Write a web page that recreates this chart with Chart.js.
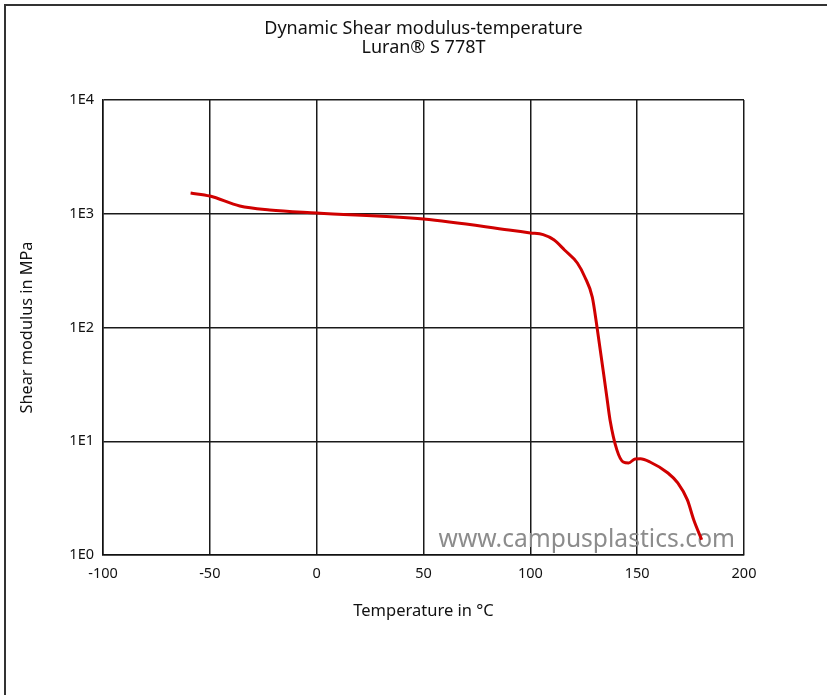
<!DOCTYPE html>
<html>
<head>
<meta charset="utf-8">
<script src="https://cdn.jsdelivr.net/npm/chart.js@4/dist/chart.umd.min.js"></script>
<style>
  html,body{margin:0;padding:0;background:#fff;}
  #wrap{position:relative;width:827px;height:695px;overflow:hidden;}
  #frame{position:absolute;left:4px;top:4px;width:900px;height:800px;border-left:2px solid #333;border-top:2px solid #333;}
  #c{position:absolute;left:0;top:0;}
</style>
</head>
<body>
<div id="wrap">
  <div id="frame"></div>
  <canvas id="c" width="827" height="695"></canvas>
</div>
<script>
// temperature (°C) and shear modulus (MPa)
const temps = [-59, -50, -36, -22, 0, 50, 90, 100, 106, 111, 116, 122, 125.5, 129, 131.2, 135.8, 137.3, 140.5, 143.5, 146, 149, 151.5, 156, 164.4, 169, 173.5, 176.5, 180.2];
const modulus = [1520, 1430, 1170, 1080, 1016, 899, 720, 678, 655, 590, 480, 369, 278, 185, 101, 24.5, 15.4, 8.4, 6.57, 6.44, 6.98, 7.0, 6.57, 5.26, 4.3, 3.05, 2.03, 1.36];

const yTickValues = [1, 10, 100, 1000, 10000];
const yTickLabels = ['1E0', '1E1', '1E2', '1E3', '1E4'];

const titleLines = ['Dynamic Shear modulus-temperature', 'Luran® S 778T'];
const watermark = 'www.campusplastics.com';

const FONT = "'Noto Sans', 'Open Sans', sans-serif";

const watermarkPlugin = {
  id: 'watermark',
  beforeDatasetsDraw(chart){
    const ctx = chart.ctx;
    ctx.save();
    ctx.font = '24.6px ' + FONT;
    ctx.fillStyle = '#8c8c8c';
    ctx.textAlign = 'right';
    ctx.textBaseline = 'alphabetic';
    ctx.fillText(watermark, chart.chartArea.right - 9, chart.chartArea.bottom - 8);
    ctx.restore();
  }
};

new Chart(document.getElementById('c'), {
  type: 'line',
  data: {
    datasets: [{
      data: temps.map((t, i) => ({x: t, y: modulus[i]})),
      borderColor: '#d00000',
      borderWidth: 3,
      pointRadius: 0,
      cubicInterpolationMode: 'monotone',
      fill: false,
      yAxisID: 'y'
    }]
  },
  options: {
    responsive: false,
    animation: false,
    layout: {padding: {left: 20, top: 0, right: 0, bottom: 0}},
    plugins: {
      legend: {display: false},
      tooltip: {enabled: false},
      title: {
        display: true,
        text: titleLines,
        color: '#111',
        font: {family: FONT, size: 18, weight: 'normal', lineHeight: '19px'},
        padding: {top: 19.5, bottom: 42.5}
      }
    },
    scales: {
      x: {
        type: 'linear',
        min: -100, max: 200,
        afterFit(s){ s.height = 140; },
        ticks: {stepSize: 50, color: '#111', padding: 10, font: {family: FONT, size: 14.5}},
        grid: {color: '#1a1a1a', lineWidth: 1.5, drawTicks: false},
        border: {color: '#111', width: 1.5},
        title: {display: true, text: 'Temperature in °C', color: '#111',
          font: {family: FONT, size: 16.5, lineHeight: 1.2}, padding: {top: 0, bottom: 74}}
      },
      y: {
        type: 'logarithmic',
        min: 1, max: 10000,
        afterFit(s){ s.width = 83; },
        afterBuildTicks(s){ s.ticks = yTickValues.map(v => ({value: v})); },
        ticks: {
          color: '#111', padding: 9, font: {family: FONT, size: 14.5},
          callback(v){ const i = yTickValues.indexOf(v); return i >= 0 ? yTickLabels[i] : ''; }
        },
        grid: {color: '#1a1a1a', lineWidth: 1.5, drawTicks: false},
        border: {color: '#111', width: 1.5},
        title: {display: true, text: 'Shear modulus in MPa', color: '#111',
          font: {family: FONT, size: 16.3, lineHeight: '14px'}, padding: {top: 0, bottom: 0}}
      },
      // empty right-hand spacer so the title centres over the plot
      yRight: {
        type: 'linear',
        position: 'right',
        afterFit(s){ s.width = 83; },
        ticks: {display: false},
        grid: {display: false, drawTicks: false},
        border: {display: false}
      }
    }
  },
  plugins: [watermarkPlugin]
});
</script>
</body>
</html>
